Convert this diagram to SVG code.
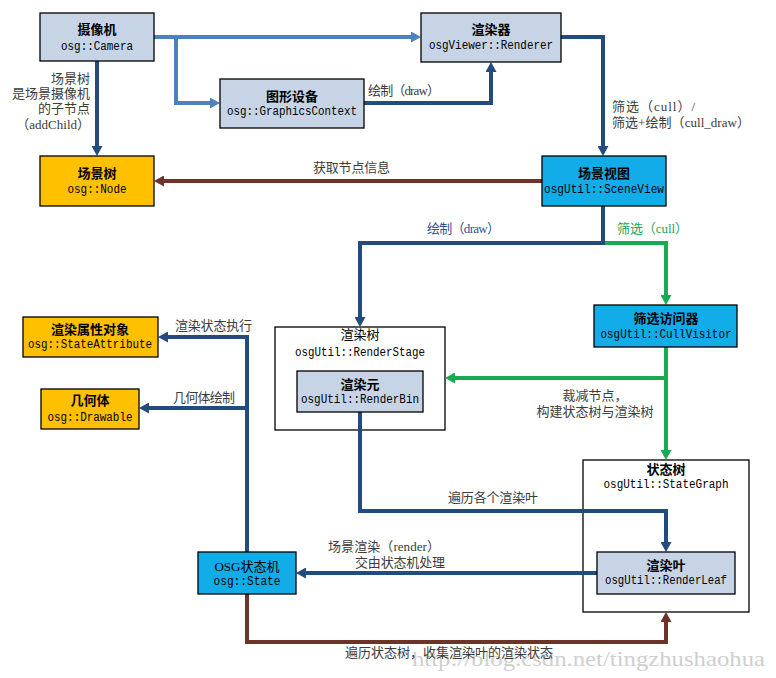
<svg xmlns="http://www.w3.org/2000/svg" width="776" height="678" viewBox="0 0 776 678">
<style>
text{font-family:"Liberation Serif","Noto Sans CJK SC",serif;font-size:13px;fill:#000}
.m{font-family:"Liberation Mono","Noto Sans CJK SC",monospace;font-size:12.5px}
.c{text-anchor:middle}
.e{text-anchor:end}
.h{font-weight:bold}
.l{fill:#3c3c3c}
.box{stroke:#000;stroke-width:1.3}
.gray{fill:#c6d4e6}
.org{fill:#ffc000}
.sky{fill:#12ade9}
.wht{fill:#fff}
.ln{fill:none;stroke-width:4;stroke-linejoin:miter}
.sb{stroke:#4f81bd}
.db{stroke:#244b7d}
.br{stroke:#6d3327}
.gr{stroke:#1aab52}
</style>
<defs>
<marker id="aSb" markerUnits="userSpaceOnUse" markerWidth="10" markerHeight="11" viewBox="0 0 10 11" refX="0" refY="5.5" orient="auto"><path d="M0,0 L10,5.5 L0,11 z" fill="#4f81bd"/></marker>
<marker id="aDb" markerUnits="userSpaceOnUse" markerWidth="10" markerHeight="11" viewBox="0 0 10 11" refX="0" refY="5.5" orient="auto"><path d="M0,0 L10,5.5 L0,11 z" fill="#244b7d"/></marker>
<marker id="aBr" markerUnits="userSpaceOnUse" markerWidth="10" markerHeight="11" viewBox="0 0 10 11" refX="0" refY="5.5" orient="auto"><path d="M0,0 L10,5.5 L0,11 z" fill="#6d3327"/></marker>
<marker id="aGr" markerUnits="userSpaceOnUse" markerWidth="10" markerHeight="11" viewBox="0 0 10 11" refX="0" refY="5.5" orient="auto"><path d="M0,0 L10,5.5 L0,11 z" fill="#1aab52"/></marker>
</defs>
<rect width="776" height="678" fill="#fff"/>
<text x="412" y="666" style="font-size:21px;fill:#cfcfcf" textLength="353" lengthAdjust="spacingAndGlyphs">http://blog.csdn.net/tingzhushaohua</text>

<g id="renderstage">
<rect class="box wht" x="275" y="327" width="170" height="103"/>
<text class="c" x="360" y="339">渲染树</text>
<text class="c m" x="360" y="356" textLength="130" lengthAdjust="spacingAndGlyphs">osgUtil::RenderStage</text>
</g>
<g id="stategraph">
<rect class="box wht" x="583" y="460" width="166" height="152"/>
<text class="c h" x="666" y="474">状态树</text>
<text class="c m" x="666" y="488" textLength="125" lengthAdjust="spacingAndGlyphs">osgUtil::StateGraph</text>
</g>

<g id="connectors">
<path class="ln sb" d="M154,37 H411" marker-end="url(#aSb)"/>
<path class="ln sb" d="M176,37 V103 H210" marker-end="url(#aSb)"/>
<path class="ln db" d="M364,103 H491 V72" marker-end="url(#aDb)"/>
<path class="ln db" d="M561,37 H603 V146" marker-end="url(#aDb)"/>
<path class="ln db" d="M97,61 V146" marker-end="url(#aDb)"/>
<path class="ln br" d="M542,181 H164" marker-end="url(#aBr)"/>
<path class="ln gr" d="M605,243 H666 V295" marker-end="url(#aGr)"/>
<path class="ln db" d="M603,206 V243 H360 V317" marker-end="url(#aDb)"/>
<path class="ln gr" d="M666,347 V450" marker-end="url(#aGr)"/>
<path class="ln gr" d="M666,378 H455" marker-end="url(#aGr)"/>
<path class="ln db" d="M360,412 V511 H666 V542" marker-end="url(#aDb)"/>
<path class="ln db" d="M597,573 H306" marker-end="url(#aDb)"/>
<path class="ln db" d="M247,552 V337 H168" marker-end="url(#aDb)"/>
<path class="ln db" d="M247,408 H149" marker-end="url(#aDb)"/>
<path class="ln br" d="M247,594 V642 H666 V622" marker-end="url(#aBr)"/>

<text class="l" x="368" y="95" textLength="72">绘制（draw）</text>
<text class="l e" x="90" y="83">场景树</text>
<text class="l e" x="90" y="98">是场景摄像机</text>
<text class="l e" x="90" y="113">的子节点</text>
<text class="l e" x="90" y="129">（addChild）</text>
<text class="l" x="313" y="172" textLength="77">获取节点信息</text>
<text class="l" x="612" y="111" textLength="83">筛选（cull）/</text>
<text class="l" x="612" y="127" textLength="138">筛选+绘制（cull_draw）</text>
<text x="427" y="233" textLength="73" style="fill:#2e5590">绘制（draw）</text>
<text x="617" y="233" textLength="71" style="fill:#22a656">筛选（cull）</text>
<text class="l" x="175" y="330" textLength="77">渲染状态执行</text>
<text class="l" x="173" y="402" textLength="62">几何体绘制</text>
<text class="l c" x="595" y="400">裁减节点，</text>
<text class="l c" x="595" y="416">构建状态树与渲染树</text>
<text class="l" x="448" y="502" textLength="90">遍历各个渲染叶</text>
<text class="l" x="328" y="551" textLength="112">场景渲染（render）</text>
<text class="l" x="355" y="567" textLength="90">交由状态机处理</text>
<text class="l" x="345" y="657" textLength="208">遍历状态树，收集渲染叶的渲染状态</text>
</g>

<g id="camera">
<rect class="box gray" x="40" y="13" width="114" height="48"/>
<text class="c h" x="97" y="34">摄像机</text>
<text class="c m" x="97" y="50" textLength="72" lengthAdjust="spacingAndGlyphs">osg::Camera</text>
</g>
<g id="renderer">
<rect class="box gray" x="421" y="13" width="140" height="49"/>
<text class="c h" x="491" y="34">渲染器</text>
<text class="c m" x="491" y="49" textLength="124" lengthAdjust="spacingAndGlyphs">osgViewer::Renderer</text>
</g>
<g id="graphicscontext">
<rect class="box gray" x="220" y="79" width="144" height="49"/>
<text class="c h" x="292" y="101">图形设备</text>
<text class="c m" x="292" y="115" textLength="130" lengthAdjust="spacingAndGlyphs">osg::GraphicsContext</text>
</g>
<g id="scenetree">
<rect class="box org" x="40" y="156" width="114" height="50"/>
<text class="c h" x="97" y="178">场景树</text>
<text class="c m" x="97" y="193" textLength="59" lengthAdjust="spacingAndGlyphs">osg::Node</text>
</g>
<g id="sceneview">
<rect class="box sky" x="542" y="156" width="124" height="50"/>
<text class="c h" x="604" y="178">场景视图</text>
<text class="c m" x="604" y="193" textLength="120" lengthAdjust="spacingAndGlyphs">osgUtil::SceneView</text>
</g>
<g id="stateattribute">
<rect class="box org" x="23" y="317" width="135" height="40"/>
<text class="c h" x="90" y="334">渲染属性对象</text>
<text class="c m" x="90" y="348" textLength="124" lengthAdjust="spacingAndGlyphs">osg::StateAttribute</text>
</g>
<g id="drawable">
<rect class="box org" x="41" y="389" width="98" height="40"/>
<text class="c h" x="90" y="405">几何体</text>
<text class="c m" x="90" y="421" textLength="85" lengthAdjust="spacingAndGlyphs">osg::Drawable</text>
</g>
<g id="renderbin">
<rect class="box gray" x="297" y="371" width="126" height="41"/>
<text class="c h" x="360" y="389">渲染元</text>
<text class="c m" x="360" y="403" textLength="118" lengthAdjust="spacingAndGlyphs">osgUtil::RenderBin</text>
</g>
<g id="cullvisitor">
<rect class="box sky" x="594" y="305" width="143" height="42"/>
<text class="c h" x="666" y="323">筛选访问器</text>
<text class="c m" x="666" y="338" textLength="131" lengthAdjust="spacingAndGlyphs">osgUtil::CullVisitor</text>
</g>
<g id="renderleaf">
<rect class="box gray" x="597" y="552" width="138" height="42"/>
<text class="c h" x="666" y="570">渲染叶</text>
<text class="c m" x="666" y="584" textLength="122" lengthAdjust="spacingAndGlyphs">osgUtil::RenderLeaf</text>
</g>
<g id="state">
<rect class="box sky" x="198" y="552" width="98" height="42"/>
<text class="c" x="247" y="571">OSG状态机</text>
<text class="c m" x="247" y="585" textLength="67" lengthAdjust="spacingAndGlyphs">osg::State</text>
</g>
</svg>
